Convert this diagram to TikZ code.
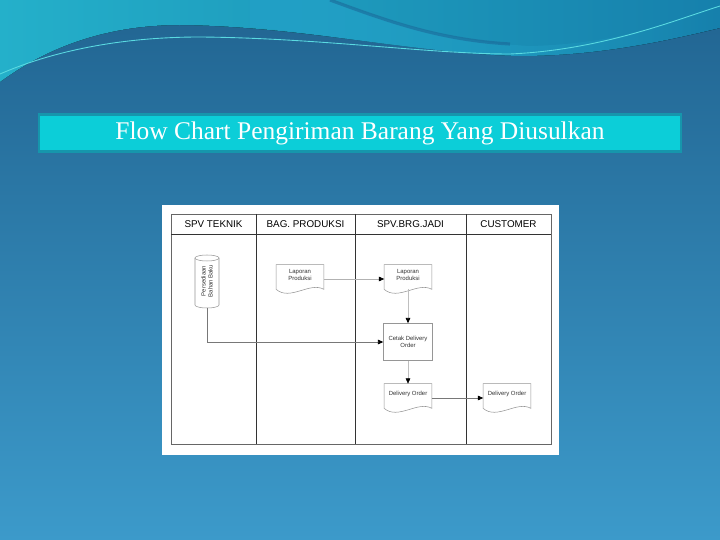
\documentclass[tikz,border=0pt]{standalone}
\usepackage{fontspec}
\setmainfont{Liberation Serif}
\setsansfont{Liberation Sans}
\usetikzlibrary{arrows.meta,calc,fadings}

\definecolor{bgtop}{RGB}{33,100,145}
\definecolor{bgbot}{RGB}{60,154,202}
\definecolor{wavel}{RGB}{36,176,202}
\definecolor{wavem}{RGB}{22,118,162}
\definecolor{waver}{RGB}{22,128,172}
\definecolor{waveband}{RGB}{34,160,198}
\definecolor{wavestreak}{RGB}{26,96,146}
\definecolor{waveline}{RGB}{90,218,225}
\definecolor{titlefill}{RGB}{12,206,216}
\definecolor{titleedge}{RGB}{22,150,172}
\definecolor{shapeedge}{RGB}{150,150,150}
\definecolor{flowgray}{RGB}{120,120,120}

\newcommand{\lanefont}{\sffamily\fontsize{5.6}{6}\selectfont}
\newcommand{\boxfont}{\sffamily\fontsize{3.4}{4}\selectfont}
% wavy bottom of a document node
\newcommand{\docshape}[1]{%
  \draw[shapeedge, line width=0.3pt, fill=white]
    ($(#1.south west)+(0,-4)$) -- (#1.north west) -- (#1.north east) -- ($(#1.south east)+(0,-4)$)
    .. controls ($(#1.south)+(10,-12)$) and ($(#1.south)+(-10,8)$) .. ($(#1.south west)+(0,-4)$) -- cycle;}

\begin{document}
\begin{tikzpicture}[x=0.02cm, y=-0.02cm,
  lane/.style={font=\lanefont, inner sep=0pt},
  doc/.style={font=\boxfont, text=black!80, align=center, minimum width=0.94cm, minimum height=0.56cm, inner sep=0pt},
  proc/.style={draw=shapeedge, line width=0.3pt, fill=white, font=\boxfont, text=black!80, align=center,
    minimum width=0.98cm, minimum height=0.74cm, inner sep=0pt},
  flow/.style={draw=flowgray, line width=0.35pt, -{Triangle[length=3pt, width=2.6pt, color=black]}}]
  \useasboundingbox (0,0) rectangle (720,540);

  % background and waves
  \fill[top color=bgtop, bottom color=bgbot] (0,0) rectangle (720,540);
  \fill[left color=wavel, middle color=wavem, right color=waver] (0,0) -- (0,82)
    .. controls (50,45) and (110,25) .. (180,25)
    .. controls (300,26) and (420,54) .. (520,56)
    .. controls (600,56) and (670,40) .. (720,28) -- (720,0) -- cycle;
  \fill[waveband, path fading=east] (250,0) -- (330,0) .. controls (390,22) and (450,42) .. (530,46)
    .. controls (620,44) and (680,20) .. (720,5) -- (720,28)
    .. controls (670,40) and (600,56) .. (520,56)
    .. controls (430,54) and (330,34) .. (250,27) -- cycle;
  \draw[wavestreak, line width=1.8pt, opacity=0.5] (330,0) .. controls (390,22) and (440,40) .. (510,44);
  \draw[waveline, line width=0.5pt] (0,74) .. controls (60,48) and (130,37) .. (200,37)
    .. controls (320,38) and (430,54) .. (510,54)
    .. controls (600,50) and (670,22) .. (720,6);

  % title
  \node[fill=titlefill, draw=titleedge, line width=1.2pt, minimum width=12.86cm, minimum height=0.74cm,
    text=white, font=\fontsize{14.5}{16}\selectfont] (title) at (360,133) {Flow Chart Pengiriman Barang Yang Diusulkan};

  % swimlane panel
  \fill[white] (162,205) rectangle (559,455);
  \draw[line width=0.5pt, black!60] (171,214) rectangle (551,444);
  \draw[line width=0.5pt, black!80] (171,234) -- (551,234);
  \foreach \x in {256, 355, 466} { \draw[line width=0.5pt, black!80] (\x,214) -- (\x,444); }
  \node[lane] (spv) at (213.5,224) {SPV TEKNIK};
  \node[lane] (bag) at (305.5,224) {BAG. PRODUKSI};
  \node[lane] (brg) at (410.5,224) {SPV.BRG.JADI};
  \node[lane] (cust) at (508.5,224) {CUSTOMER};

  % stock cylinder
  \draw[shapeedge, line width=0.3pt, fill=white] (195,258) -- (195,305)
    arc[start angle=180, end angle=360, x radius=0.24cm, y radius=0.06cm] -- (219,258);
  \draw[shapeedge, line width=0.3pt, fill=white] (207,258) ellipse [x radius=0.24cm, y radius=0.06cm];
  \node[rotate=90, minimum width=1.06cm, minimum height=0.48cm, inner sep=0pt, font=\boxfont,
    text=black!80, align=center] (stock) at (207,281) {Persediaan\\Bahan Baku};

  % documents and process
  \node[doc] (lap1) at (300,279) {};
  \docshape{lap1}
  \node[doc] (lap1txt) at (300,275) {Laporan\\Produksi};
  \node[doc] (lap2) at (408,279) {};
  \docshape{lap2}
  \node[doc] (lap2txt) at (408,275) {Laporan\\Produksi};
  \node[proc] (cetak) at (408,342) {Cetak Delivery\\Order};
  \node[doc] (do1) at (408,398) {};
  \docshape{do1}
  \node[doc] (do1txt) at (408,394) {Delivery Order};
  \node[doc] (do2) at (507,398) {};
  \docshape{do2}
  \node[doc] (do2txt) at (507,394) {Delivery Order};

  % connectors
  \draw[flow, draw=black!30] (lap1.east) -- (lap2.west);
  \draw[flow, draw=black!25] ($(lap2.south)+(0,-4)$) -- (cetak.north);
  \draw[flow] (stock.west) |- (cetak.west);
  \draw[flow, draw=black!25] (cetak.south) -- (do1.north);
  \draw[flow] (do1.east) -- (do2.west);
\end{tikzpicture}
\end{document}
